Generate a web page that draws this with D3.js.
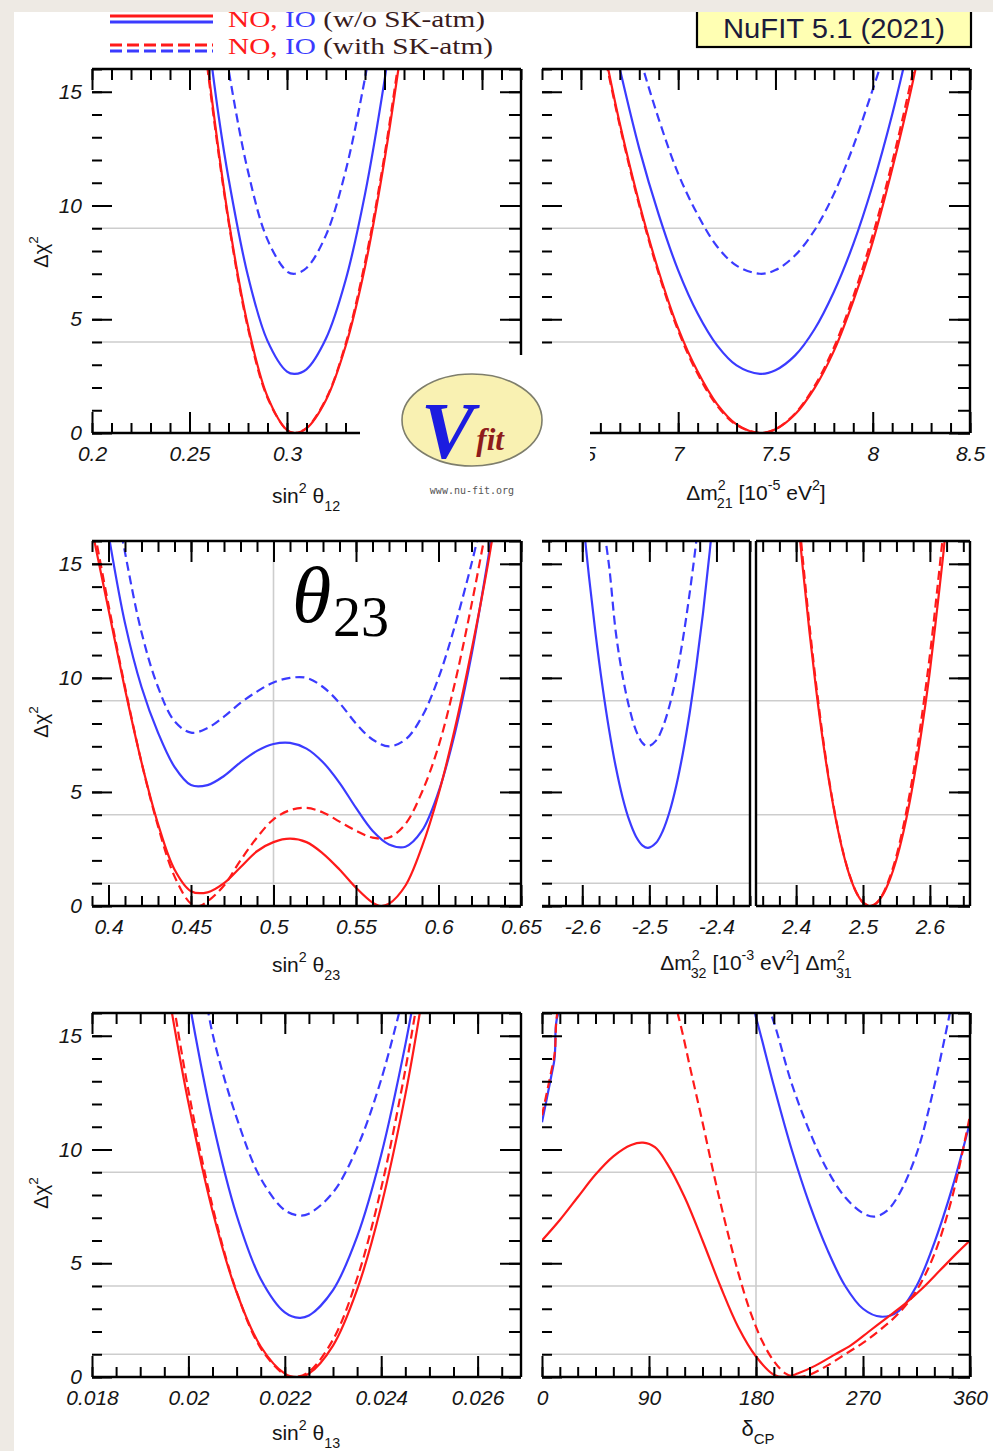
<!DOCTYPE html>
<html>
<head>
<meta charset="utf-8">
<script src="https://cdn.jsdelivr.net/npm/d3@7"></script>
<style>
body { margin: 0; background: #fff; }
svg { display: block; }
text { font-family: "Liberation Sans", Arial, sans-serif; }
text.serif { font-family: "Liberation Serif", "Times New Roman", serif; }
</style>
</head>
<body>
<svg id="chart" width="993" height="1451"></svg>
<script>
// ---- data: [x, delta chi^2] ----
var yMajors = [0, 5, 10, 15];

// sin^2 theta12
var th12Majors = [0.2, 0.25, 0.3, 0.35, 0.4];
var th12_NO    = [[0.255,19.5],[0.26,15.7],[0.27,9.4],[0.28,4.7],[0.29,1.6],[0.30,0.13],[0.304,0],[0.31,0.2],[0.32,1.45],[0.33,3.8],[0.34,7.3],[0.35,12.0],[0.36,17.7]];
var th12_NO_sk = [[0.255,19.2],[0.26,15.5],[0.27,9.3],[0.28,4.6],[0.29,1.55],[0.30,0.12],[0.304,0],[0.31,0.22],[0.32,1.5],[0.33,3.9],[0.34,7.5],[0.35,12.2],[0.36,18.0]];
var th12_IO    = [[0.258,18.5],[0.265,13.9],[0.27,11.2],[0.28,6.9],[0.29,4.05],[0.30,2.7],[0.304,2.6],[0.31,2.8],[0.32,4.15],[0.33,6.7],[0.34,10.5],[0.35,15.5],[0.355,18.5]];
var th12_IO_sk = [[0.265,18.9],[0.27,16.0],[0.28,11.5],[0.29,8.5],[0.30,7.1],[0.304,7.0],[0.31,7.25],[0.32,8.7],[0.33,11.5],[0.34,15.6],[0.345,18.1]];

// delta m^2_21
var dm21Majors = [6.5, 7, 7.5, 8, 8.5];
var dm21_NO    = [[6.6,17.7],[6.7,13.6],[6.8,10.1],[6.9,7.1],[7.0,4.6],[7.1,2.7],[7.2,1.27],[7.3,0.38],[7.42,0],[7.5,0.16],[7.6,0.81],[7.7,1.96],[7.8,3.6],[7.9,5.8],[8.0,8.4],[8.1,11.6],[8.2,15.2],[8.3,19.4]];
var dm21_NO_sk = [[6.6,17.5],[6.7,13.5],[6.8,10.0],[6.9,7.0],[7.0,4.5],[7.1,2.6],[7.2,1.2],[7.3,0.35],[7.42,0],[7.5,0.17],[7.6,0.85],[7.7,2.05],[7.8,3.75],[7.9,6.0],[8.0,8.7],[8.1,11.9],[8.2,15.6],[8.3,19.8]];
var dm21_IO    = [[6.65,17.9],[6.7,16.0],[6.8,12.5],[6.9,9.6],[7.0,7.15],[7.1,5.25],[7.2,3.85],[7.3,2.97],[7.42,2.6],[7.5,2.76],[7.6,3.4],[7.7,4.55],[7.8,6.2],[7.9,8.3],[8.0,10.9],[8.1,14.0],[8.2,17.6]];
var dm21_IO_sk = [[6.75,18.2],[6.8,16.6],[6.9,13.8],[7.0,11.4],[7.1,9.6],[7.2,8.2],[7.3,7.36],[7.42,7.0],[7.5,7.16],[7.6,7.8],[7.7,8.9],[7.8,10.5],[7.9,12.6],[8.0,15.1],[8.05,16.4]];

// sin^2 theta23
var th23Majors = [0.4, 0.45, 0.5, 0.55, 0.6, 0.65];
var th23_NO    = [[0.39,16.5],[0.40,13.0],[0.41,9.5],[0.42,6.3],[0.43,3.6],[0.44,1.6],[0.45,0.65],[0.46,0.6],[0.47,1.0],[0.48,1.7],[0.49,2.4],[0.50,2.8],[0.51,2.95],[0.52,2.8],[0.53,2.3],[0.54,1.6],[0.55,0.8],[0.56,0.15],[0.565,0.0],[0.57,0.1],[0.58,0.9],[0.59,2.6],[0.60,4.9],[0.61,7.8],[0.62,11.2],[0.63,15.0],[0.635,17.2]];
var th23_NO_sk = [[0.39,17.0],[0.40,13.2],[0.41,9.6],[0.42,6.3],[0.43,3.5],[0.44,1.3],[0.45,0.1],[0.455,0.0],[0.46,0.2],[0.47,0.9],[0.48,2.0],[0.49,3.0],[0.50,3.8],[0.51,4.2],[0.52,4.3],[0.53,4.1],[0.54,3.7],[0.55,3.3],[0.56,3.0],[0.57,3.0],[0.58,3.6],[0.59,5.0],[0.60,7.0],[0.61,9.8],[0.62,13.2],[0.63,17.0]];
var th23_IO    = [[0.395,18.5],[0.40,16.3],[0.41,12.4],[0.42,9.6],[0.43,7.6],[0.44,6.1],[0.45,5.3],[0.46,5.3],[0.47,5.7],[0.48,6.3],[0.49,6.8],[0.50,7.1],[0.51,7.15],[0.52,6.9],[0.53,6.3],[0.54,5.4],[0.55,4.3],[0.56,3.3],[0.57,2.7],[0.58,2.6],[0.59,3.3],[0.60,5.0],[0.61,7.6],[0.62,11.0],[0.63,15.2],[0.635,17.5]];
var th23_IO_sk = [[0.405,17.5],[0.41,15.5],[0.42,12.0],[0.43,9.6],[0.44,8.1],[0.45,7.6],[0.46,7.8],[0.47,8.3],[0.48,8.9],[0.49,9.4],[0.50,9.8],[0.51,10.0],[0.52,10.0],[0.53,9.6],[0.54,8.9],[0.55,8.0],[0.56,7.3],[0.57,7.0],[0.58,7.3],[0.59,8.3],[0.60,10.0],[0.61,12.3],[0.62,15.0],[0.625,16.5]];

// delta m^2_32 (IO, left half) and delta m^2_31 (NO, right half)
var dm32Majors = [-2.6, -2.5, -2.4];
var dm31Majors = [2.4, 2.5, 2.6];
var dm32_IO    = [[-2.60,17.3],[-2.59,14.45],[-2.58,11.9],[-2.57,9.66],[-2.56,7.72],[-2.55,6.09],[-2.54,4.77],[-2.53,3.76],[-2.52,3.05],[-2.51,2.65],[-2.502,2.55],[-2.49,2.77],[-2.48,3.29],[-2.47,4.12],[-2.46,5.26],[-2.45,6.71],[-2.44,8.45],[-2.43,10.52],[-2.42,12.85],[-2.41,15.55],[-2.40,18.55]];
var dm32_IO_sk = [[-2.57,17.0],[-2.56,14.9],[-2.55,12.0],[-2.54,10.1],[-2.53,8.7],[-2.52,7.7],[-2.51,7.14],[-2.502,7.0],[-2.49,7.25],[-2.48,7.84],[-2.47,8.78],[-2.46,10.06],[-2.45,11.7],[-2.44,13.7],[-2.43,16.0],[-2.42,18.7]];
var dm31_NO    = [[2.40,17.9],[2.41,14.8],[2.42,12.0],[2.43,9.47],[2.44,7.25],[2.45,5.33],[2.46,3.7],[2.47,2.37],[2.48,1.33],[2.49,0.59],[2.50,0.15],[2.51,0],[2.52,0.13],[2.53,0.51],[2.54,1.15],[2.55,2.04],[2.56,3.19],[2.57,4.59],[2.58,6.25],[2.59,8.16],[2.60,10.3],[2.61,12.8],[2.62,15.4],[2.63,18.4]];
var dm31_NO_sk = [[2.40,18.4],[2.41,15.2],[2.42,12.3],[2.43,9.7],[2.44,7.4],[2.45,5.4],[2.46,3.75],[2.47,2.4],[2.48,1.35],[2.49,0.6],[2.50,0.16],[2.512,0],[2.52,0.12],[2.53,0.55],[2.54,1.25],[2.55,2.2],[2.56,3.45],[2.57,4.95],[2.58,6.7],[2.59,8.75],[2.60,11.0],[2.61,13.6],[2.62,16.4],[2.63,19.5]];

// sin^2 theta13
var th13Majors = [0.018, 0.02, 0.022, 0.024, 0.026];
var th13_NO    = [[0.0195,18.0],[0.0197,15.5],[0.020,12.06],[0.0205,7.3],[0.021,3.72],[0.0215,1.34],[0.022,0.15],[0.02225,0],[0.0225,0.15],[0.023,1.38],[0.0235,3.84],[0.024,7.52],[0.0245,12.4],[0.0248,16.0],[0.025,18.8]];
var th13_NO_sk = [[0.0196,17.6],[0.0197,16.3],[0.020,12.6],[0.0205,7.5],[0.021,3.75],[0.0215,1.27],[0.022,0.1],[0.0222,0],[0.0225,0.23],[0.023,1.64],[0.0235,4.33],[0.024,8.3],[0.0245,13.5],[0.0248,17.2]];
var th13_IO    = [[0.0199,18.0],[0.020,16.7],[0.0205,11.25],[0.021,7.11],[0.0215,4.31],[0.022,2.84],[0.0223,2.6],[0.0225,2.7],[0.023,3.82],[0.0235,6.17],[0.024,9.77],[0.0245,14.6],[0.0247,16.9]];
var th13_IO_sk = [[0.0203,17.5],[0.0205,15.1],[0.021,11.4],[0.0215,8.73],[0.022,7.33],[0.0223,7.1],[0.0225,7.18],[0.023,8.11],[0.0235,10.08],[0.024,13.08],[0.0245,17.1]];

// delta CP [deg]
var dcpMajors = [0, 90, 180, 270, 360];
var dcp_NO    = [[0,6.0],[15,6.9],[30,7.9],[45,8.9],[60,9.7],[75,10.2],[85,10.3],[95,10.1],[105,9.4],[120,7.9],[135,6.0],[150,4.0],[165,2.2],[180,0.9],[195,0.1],[205,0.0],[215,0.15],[230,0.5],[245,0.95],[260,1.4],[275,2.0],[290,2.6],[305,3.2],[320,3.9],[335,4.7],[350,5.5],[360,6.0]];
var dcp_NO_sk = [[0,11.5],[10,14.0],[20,16.8],[105,17.5],[115,15.8],[125,13.5],[135,11.2],[145,8.8],[155,6.6],[165,4.6],[175,2.9],[185,1.6],[195,0.7],[205,0.15],[215,0.0],[225,0.1],[240,0.5],[255,1.0],[270,1.5],[285,2.1],[300,2.8],[315,3.8],[330,5.4],[345,7.9],[360,11.5]];
var dcp_IO    = [[0,11.2],[10,13.8],[20,16.5],[170,17.5],[180,15.8],[195,12.8],[210,10.0],[225,7.6],[240,5.6],[255,4.0],[270,3.0],[285,2.65],[300,2.9],[315,4.0],[330,5.9],[345,8.3],[360,11.2]];
var dcp_IO_sk = [[185,17.0],[195,15.6],[210,12.9],[225,10.8],[240,9.1],[255,7.9],[270,7.2],[280,7.05],[290,7.3],[300,8.0],[315,9.8],[330,12.8],[345,16.5]];

// ---- drawing ----
var RED = '#ff1a1a', BLUE = '#3b3bff', GRID = '#cdcdcd';
var svg = d3.select('#chart');
svg.append('rect').attr('width', 993).attr('height', 1451).attr('fill', '#fff');

var clipCount = 0;

function drawPanel(o) {
  var x = d3.scaleLinear().domain(o.xDomain).range([o.left, o.right]);
  var y = d3.scaleLinear().domain([0, 16]).range([o.bottom, o.top]);
  var g = svg.append('g');
  var cid = 'clip' + (clipCount++);
  g.append('clipPath').attr('id', cid).append('rect')
    .attr('x', o.left).attr('y', o.top)
    .attr('width', o.right - o.left).attr('height', o.bottom - o.top);

  // reference lines
  g.selectAll('line.hgrid').data(o.hgrid || []).enter().append('line')
    .attr('class', 'hgrid')
    .attr('x1', o.left).attr('x2', o.right)
    .attr('y1', function(d) { return y(d); }).attr('y2', function(d) { return y(d); })
    .attr('stroke', GRID).attr('stroke-width', 1.6);
  g.selectAll('line.vgrid').data(o.vgrid || []).enter().append('line')
    .attr('class', 'vgrid')
    .attr('x1', function(d) { return x(d); }).attr('x2', function(d) { return x(d); })
    .attr('y1', o.top).attr('y2', o.bottom)
    .attr('stroke', GRID).attr('stroke-width', 1.6);

  // curves
  var line = d3.line()
    .x(function(d) { return x(d[0]); })
    .y(function(d) { return y(d[1]); })
    .curve(d3.curveCatmullRom.alpha(0.5));
  var cg = g.append('g').attr('clip-path', 'url(#' + cid + ')');
  o.curves.forEach(function(c) {
    cg.append('path').datum(c.data)
      .attr('d', line)
      .attr('fill', 'none')
      .attr('stroke', c.color)
      .attr('stroke-width', 2.2)
      .attr('stroke-dasharray', c.dashed ? '9,5' : null);
  });

  // ticks
  var minors = d3.range(o.minor[0], o.minor[1] + 1e-9, o.minor[2]);
  var yMinors = d3.range(0, 16.01, 1);
  function ax(axis, tx, ty) {
    var a = g.append('g').attr('transform', 'translate(' + tx + ',' + ty + ')').call(axis);
    a.select('.domain').remove();
    a.selectAll('line').attr('stroke', '#000').attr('stroke-width', 2);
    a.selectAll('text')
      .attr('font-size', 21).attr('font-style', 'italic').attr('fill', '#151515');
    return a;
  }
  ax(d3.axisBottom(x).tickValues(minors).tickSize(-10).tickSizeOuter(0).tickFormat(''), 0, o.bottom);
  ax(d3.axisBottom(x).tickValues(o.majors).tickSize(-21).tickSizeOuter(0).tickPadding(13)
       .tickFormat(function(d) { return String(d); }), 0, o.bottom);
  ax(d3.axisTop(x).tickValues(minors).tickSize(-11).tickSizeOuter(0).tickFormat(''), 0, o.top);
  ax(d3.axisTop(x).tickValues(o.majors).tickSize(-21).tickSizeOuter(0).tickFormat(''), 0, o.top);
  if (o.leftTicks) {
    ax(d3.axisLeft(y).tickValues(yMinors).tickSize(-10).tickSizeOuter(0).tickFormat(''), o.left, 0);
    ax(d3.axisLeft(y).tickValues(yMajors).tickSize(-20).tickSizeOuter(0).tickPadding(10)
         .tickFormat(o.yLabels ? function(d) { return String(d); } : ''), o.left, 0);
  }
  if (o.rightTicks) {
    ax(d3.axisRight(y).tickValues(yMinors).tickSize(-12).tickSizeOuter(0).tickFormat(''), o.right, 0);
    ax(d3.axisRight(y).tickValues(yMajors).tickSize(-21).tickSizeOuter(0).tickFormat(''), o.right, 0);
  }

  // frame (the left side has no line in the original)
  var f = g.append('g').attr('stroke', '#000').attr('stroke-width', 2.4);
  f.append('line').attr('x1', o.left).attr('x2', o.right).attr('y1', o.top).attr('y2', o.top);
  f.append('line').attr('x1', o.left).attr('x2', o.right).attr('y1', o.bottom).attr('y2', o.bottom);
  if (o.rightLine) f.append('line').attr('x1', o.right).attr('x2', o.right).attr('y1', o.top).attr('y2', o.bottom);
  if (o.leftLine) f.append('line').attr('x1', o.left).attr('x2', o.left).attr('y1', o.top).attr('y2', o.bottom);
}

function set4(no, nosk, io, iosk) {
  var out = [];
  if (iosk) out.push({ data: iosk, color: BLUE, dashed: true });
  if (io) out.push({ data: io, color: BLUE });
  if (nosk) out.push({ data: nosk, color: RED, dashed: true });
  if (no) out.push({ data: no, color: RED });
  return out;
}

var L0 = 92, L1 = 521, R0 = 542, R1 = 970;
var rows = [[69, 433], [541, 906], [1013, 1377]];

drawPanel({ left: L0, right: L1, top: rows[0][0], bottom: rows[0][1], xDomain: [0.2, 0.42],
  majors: th12Majors, minor: [0.2, 0.42, 0.01], hgrid: [4, 9],
  curves: set4(th12_NO, th12_NO_sk, th12_IO, th12_IO_sk),
  leftTicks: true, rightTicks: true, yLabels: true, rightLine: true });
drawPanel({ left: R0, right: R1, top: rows[0][0], bottom: rows[0][1], xDomain: [6.3, 8.5],
  majors: dm21Majors, minor: [6.3, 8.5, 0.1], hgrid: [4, 9],
  curves: set4(dm21_NO, dm21_NO_sk, dm21_IO, dm21_IO_sk),
  leftTicks: true, rightTicks: true, rightLine: true });

drawPanel({ left: L0, right: L1, top: rows[1][0], bottom: rows[1][1], xDomain: [0.39, 0.65],
  majors: th23Majors, minor: [0.39, 0.65, 0.01], hgrid: [1, 4, 9], vgrid: [0.5],
  curves: set4(th23_NO, th23_NO_sk, th23_IO, th23_IO_sk),
  leftTicks: true, rightTicks: true, yLabels: true, rightLine: true });
drawPanel({ left: R0, right: 750, top: rows[1][0], bottom: rows[1][1], xDomain: [-2.66, -2.35],
  majors: dm32Majors, minor: [-2.65, -2.35, 0.025], hgrid: [1, 4, 9],
  curves: set4(null, null, dm32_IO, dm32_IO_sk),
  leftTicks: true, rightLine: true });
drawPanel({ left: 756, right: R1, top: rows[1][0], bottom: rows[1][1], xDomain: [2.34, 2.66],
  majors: dm31Majors, minor: [2.35, 2.66, 0.025], hgrid: [1, 4, 9],
  curves: set4(dm31_NO, dm31_NO_sk, null, null),
  rightTicks: true, rightLine: true, leftLine: true });

drawPanel({ left: L0, right: L1, top: rows[2][0], bottom: rows[2][1], xDomain: [0.018, 0.0269],
  majors: th13Majors, minor: [0.018, 0.0269, 0.0005], hgrid: [1, 4, 9],
  curves: set4(th13_NO, th13_NO_sk, th13_IO, th13_IO_sk),
  leftTicks: true, rightTicks: true, yLabels: true, rightLine: true });
drawPanel({ left: R0, right: R1, top: rows[2][0], bottom: rows[2][1], xDomain: [0, 360],
  majors: dcpMajors, minor: [0, 360, 15], hgrid: [1, 4, 9], vgrid: [180],
  curves: set4(dcp_NO, dcp_NO_sk, dcp_IO, dcp_IO_sk),
  leftTicks: true, rightTicks: true, rightLine: true });

// ---- titles with sub/superscripts ----
function rich(x, y, parts, size, opts) {
  opts = opts || {};
  var t = svg.append('text').attr('x', x).attr('y', y)
    .attr('font-size', size).attr('fill', opts.fill || '#151515')
    .attr('text-anchor', opts.anchor || 'middle');
  if (opts.rotate) t.attr('transform', 'rotate(-90,' + x + ',' + y + ')');
  var shift = 0;
  parts.forEach(function(p) {
    var target = p.sup ? -0.48 * size : p.sub ? 0.38 * size : 0;
    var ts = t.append('tspan').attr('dy', target - shift).text(p.t);
    if (p.sup || p.sub) ts.attr('font-size', size * 0.68);
    if (p.dx) ts.attr('dx', p.dx);
    shift = target;
  });
  return t;
}

[252, 722, 1193].forEach(function(cy) {
  rich(48, cy, [{ t: 'Δχ' }, { t: '2', sup: true }], 20, { rotate: true });
});

rich(306, 503, [{ t: 'sin' }, { t: '2', sup: true }, { t: ' θ' }, { t: '12', sub: true }], 21);
rich(756, 500, [{ t: 'Δm' }, { t: '2', sup: true }, { t: '21', sub: true, dx: -9 }, { t: ' [10' },
  { t: '-5', sup: true }, { t: ' eV' }, { t: '2', sup: true }, { t: ']' }], 21);
rich(306, 972, [{ t: 'sin' }, { t: '2', sup: true }, { t: ' θ' }, { t: '23', sub: true }], 21);
rich(756, 970, [{ t: 'Δm' }, { t: '2', sup: true }, { t: '32', sub: true, dx: -9 }, { t: '  [10' },
  { t: '-3', sup: true }, { t: ' eV' }, { t: '2', sup: true }, { t: ']  Δm' }, { t: '2', sup: true },
  { t: '31', sub: true, dx: -9 }], 21);
rich(306, 1440, [{ t: 'sin' }, { t: '2', sup: true }, { t: ' θ' }, { t: '13', sub: true }], 21);
rich(758, 1436, [{ t: 'δ' }, { t: 'CP', sub: true }], 22);

// theta23 annotation
svg.append('text').attr('class', 'serif').attr('x', 292).attr('y', 622)
  .attr('font-style', 'italic').attr('font-size', 80).attr('fill', '#000').text('θ');
svg.append('text').attr('class', 'serif').attr('x', 333).attr('y', 636)
  .attr('font-size', 56).attr('fill', '#000').text('23');

// ---- legend ----
var legend = svg.append('g');
[[16, RED, null], [22, BLUE, null], [45, RED, '12,5'], [51, BLUE, '12,5']].forEach(function(l) {
  legend.append('line').attr('x1', 110).attr('x2', 213).attr('y1', l[0]).attr('y2', l[0])
    .attr('stroke', l[1]).attr('stroke-width', 3).attr('stroke-dasharray', l[2]);
});
var legendRows = [['(w/o SK-atm)', 27, 257], ['(with SK-atm)', 54, 265]];
legendRows.forEach(function(r) {
  var t = legend.append('text').attr('class', 'serif').attr('x', 228).attr('y', r[1])
    .attr('font-size', 24).attr('textLength', r[2]).attr('lengthAdjust', 'spacingAndGlyphs');
  t.append('tspan').attr('fill', RED).text('NO,');
  t.append('tspan').attr('fill', BLUE).text(' IO ');
  t.append('tspan').attr('fill', '#3a1c1c').text(r[0]);
});

// NuFIT box
svg.append('rect').attr('x', 697).attr('y', 4).attr('width', 274).attr('height', 43)
  .attr('fill', '#ffffb3').attr('stroke', '#000').attr('stroke-width', 2.2);
svg.append('text').attr('x', 834).attr('y', 38).attr('text-anchor', 'middle')
  .attr('font-size', 27).attr('fill', '#1b1b3a').attr('textLength', 222)
  .attr('lengthAdjust', 'spacingAndGlyphs').text('NuFIT 5.1 (2021)');

// ---- nu-fit logo ----
var logo = svg.append('g');
logo.append('rect').attr('x', 360).attr('y', 355).attr('width', 230).attr('height', 152).attr('fill', '#fff');
logo.append('ellipse').attr('cx', 472).attr('cy', 420).attr('rx', 70).attr('ry', 46)
  .attr('fill', '#f9f1b2').attr('stroke', '#7e7e6c').attr('stroke-width', 1.6);
var mark = logo.append('text').attr('class', 'serif').attr('x', 421).attr('y', 458)
  .attr('font-style', 'italic').attr('font-weight', 'bold').attr('font-size', 80)
  .attr('fill', '#1c1ce0');
mark.append('tspan').text('V');
mark.append('tspan').attr('font-size', 31).attr('fill', '#8e1b1b').attr('dx', 2).attr('dy', -8).text('fit');
logo.append('text').attr('x', 472).attr('y', 494).attr('text-anchor', 'middle')
  .style('font-family', '"DejaVu Sans Mono", monospace').attr('font-size', 10)
  .attr('fill', '#555').text('www.nu-fit.org');

// ---- page border ----
svg.append('rect').attr('x', 0).attr('y', 0).attr('width', 993).attr('height', 12).attr('fill', '#eeeae4');
svg.append('rect').attr('x', 0).attr('y', 0).attr('width', 14).attr('height', 1451).attr('fill', '#eeeae4');
</script>
</body>
</html>
